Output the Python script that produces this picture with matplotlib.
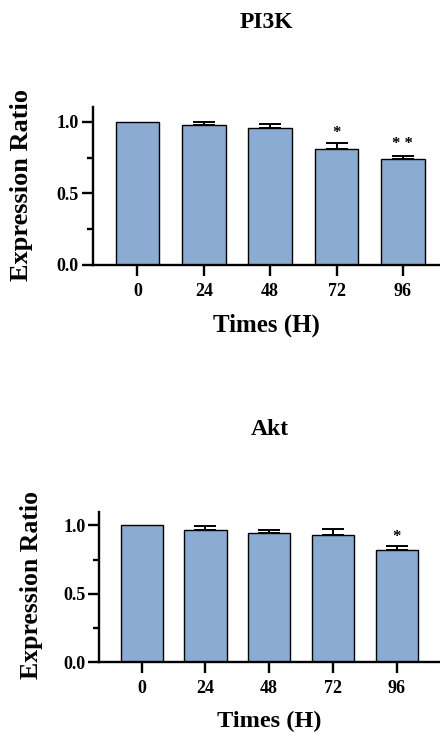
import matplotlib
matplotlib.use("Agg")
import matplotlib.pyplot as plt
from matplotlib.ticker import MultipleLocator, FormatStrFormatter

categories = ["0", "24", "48", "72", "96"]

pi3k_values = [1.0, 0.979, 0.954, 0.812, 0.737]
pi3k_errors = [0.0, 0.021, 0.030, 0.042, 0.026]
pi3k_marks = ["", "", "", "*", "* *"]

akt_values = [1.0, 0.964, 0.946, 0.931, 0.820]
akt_errors = [0.0, 0.029, 0.022, 0.044, 0.031]
akt_marks = ["", "", "", "", "*"]

plt.rcParams['font.family'] = ['Liberation Serif', 'DejaVu Serif']
plt.rcParams['font.weight'] = 'bold'

fig = plt.figure(figsize=(4.4, 7.36), dpi=100)

BAR_COLOR = "#8BABD3"


def draw(ax, values, errors, marks, title, xlim, star_offsets,
         title_size, label_size, title_pad, ylabel_x):
    x = list(range(len(categories)))
    ax.bar(x, values, width=0.66, color=BAR_COLOR, edgecolor="black",
           linewidth=1.0, zorder=2)
    for xi, v, e in zip(x, values, errors):
        if e > 0:
            ax.errorbar(xi, v, yerr=[[0], [e]], fmt="none", ecolor="black",
                        elinewidth=1.4, capsize=8, capthick=1.4, zorder=3)
    for xi, v, e, m, off in zip(x, values, errors, marks, star_offsets):
        if m:
            ax.text(xi, v + e + off, m, ha="center", va="center",
                    fontsize=12, fontweight="bold")
    ax.set_xlim(*xlim)
    ax.set_ylim(0, 1.1)
    ax.set_xticks(x)
    ax.set_xticklabels(categories)
    ax.yaxis.set_major_locator(MultipleLocator(0.5))
    ax.yaxis.set_minor_locator(MultipleLocator(0.25))
    ax.yaxis.set_major_formatter(FormatStrFormatter("%.1f"))
    for s in ["top", "right"]:
        ax.spines[s].set_visible(False)
    for s in ["left", "bottom"]:
        ax.spines[s].set_linewidth(1.7)
    ax.tick_params(axis="y", which="major", length=8, width=1.7, labelsize=13, pad=2)
    ax.tick_params(axis="y", which="minor", length=4, width=1.7)
    ax.tick_params(axis="x", which="major", length=8, width=1.7, labelsize=13, pad=5)
    for lab in ax.get_xticklabels() + ax.get_yticklabels():
        lab.set_fontweight("bold")
    ax.set_ylabel("Expression Ratio", fontsize=label_size + 1, fontweight="bold")
    ax.yaxis.set_label_coords(ylabel_x, 0.51)
    ax.set_xlabel("Times (H)", fontsize=label_size, fontweight="bold", labelpad=10)
    ax.set_title(title, fontsize=title_size, fontweight="bold", pad=title_pad)


ax1 = fig.add_axes([0.2107, 0.640, 0.7893, 0.214])
draw(ax1, pi3k_values, pi3k_errors, pi3k_marks, "PI3K", (-0.675, 4.56),
     [0, 0, 0, 0.07, 0.08], 17, 18, 57, -0.171)

ax2 = fig.add_axes([0.2257, 0.1001, 0.7743, 0.2048])
draw(ax2, akt_values, akt_errors, akt_marks, "Akt", (-0.666, 4.68),
     [0, 0, 0, 0, 0.06], 17, 17.5, 55, -0.164)

fig.savefig("out.png", dpi=100)
